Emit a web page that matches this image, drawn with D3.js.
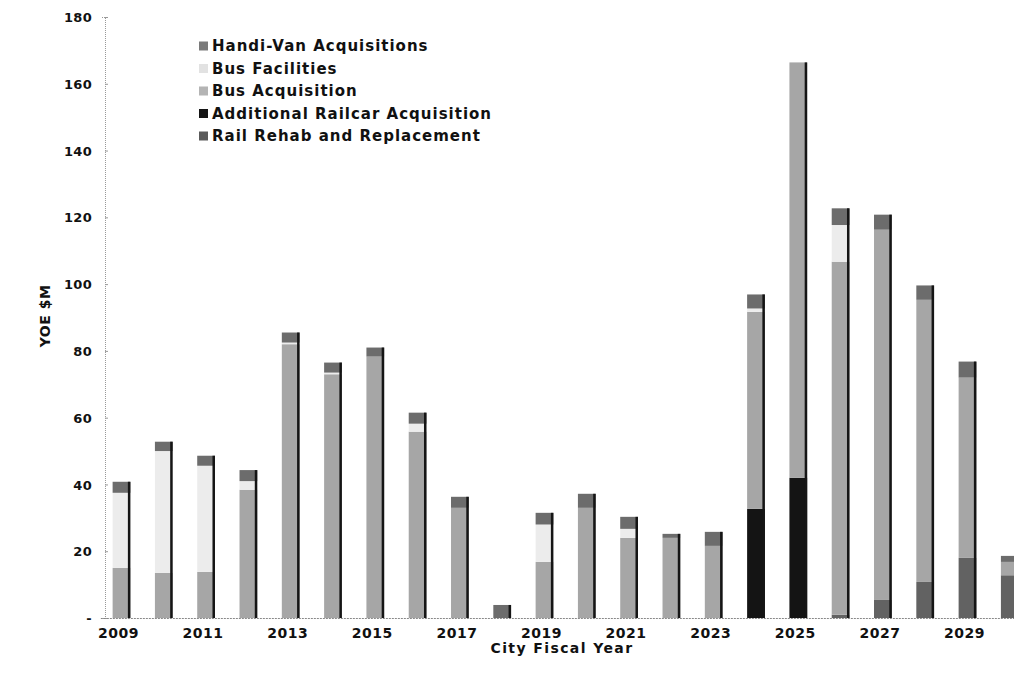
<!DOCTYPE html>
<html>
<head>
<meta charset="utf-8">
<script src="https://cdn.jsdelivr.net/npm/d3@7/dist/d3.min.js"></script>
<style>
  html, body { margin: 0; padding: 0; background: #fff; overflow: hidden; }
  text { font-family: "DejaVu Sans", Verdana, sans-serif; font-weight: bold; fill: #111; }
</style>
</head>
<body>
<svg id="chart" width="1014" height="687"></svg>
<script>
const years = [2009,2010,2011,2012,2013,2014,2015,2016,2017,2018,2019,2020,2021,2022,2023,2024,2025,2026,2027,2028,2029,2030];
const railRehab = [0,0,0,0,0,0,0,0,0,0,0,0,0,0,0,0,0,1,5.4,10.8,18,12.8];
const railcarAcq = [0,0,0,0,0,0,0,0,0,0,0,0,0,0,0,32.7,42,0,0,0,0,0];
const busAcq = [15,13.5,13.8,38.4,82,73,78.3,55.8,33,0,16.8,33,24,24,21.6,59,124.4,105.7,110.9,84.5,54,4];
const busFacilities = [22.5,36.5,31.8,2.6,0.5,0.5,0,2.4,0,0,11.2,0,2.7,0,0,1,0,11,0,0,0,0];
const handiVan = [3.3,2.8,3,3.3,3,3,2.7,3.3,3.3,3.9,3.5,4.2,3.6,1.2,4.2,4.2,0,5,4.5,4.3,4.8,1.8];
const seriesNames = ["Rail Rehab and Replacement","Additional Railcar Acquisition","Bus Acquisition","Bus Facilities","Handi-Van Acquisitions"];
const seriesKeys = ["rail","railcar","bus","fac","van"];
const seriesColors = ["#626262","#141414","#a6a6a6","#ececec","#6c6c6c"];
const legendColors = ["#5a5a5a","#141414","#b4b4b4","#e2e2e2","#7a7a7a"];
const yTicks = [0,20,40,60,80,100,120,140,160,180];

const table = years.map((y,i) => ({year:y, rail:railRehab[i], railcar:railcarAcq[i], bus:busAcq[i], fac:busFacilities[i], van:handiVan[i]}));

const svg = d3.select("#chart");
const step = 42.3;
const x = d3.scaleBand().domain(years).range([121.5 - step/2, 121.5 - step/2 + step*years.length]).paddingInner(0.58).paddingOuter(0.29);
const y = d3.scaleLinear().domain([0,180]).range([618,17]);

const stack = d3.stack().keys(seriesKeys)(table);

// y axis
const yAxis = svg.append("g").attr("transform","translate(105,0)")
  .call(d3.axisLeft(y).tickValues(yTicks).tickSize(4).tickFormat(d => d === 0 ? "-" : d));
yAxis.select(".domain").attr("stroke","#999").attr("stroke-dasharray","1,1");
yAxis.selectAll(".tick line").attr("stroke","#999").attr("x2",3);
yAxis.selectAll(".tick text").attr("x",-13).style("font-size","13px").style("letter-spacing","0.3px").attr("dy","0.35em");

// bars
const color = d3.scaleOrdinal().domain(seriesKeys).range(seriesColors);
const groups = svg.append("g").selectAll("g").data(stack).join("g").attr("fill", d => color(d.key));
groups.selectAll("rect").data(d => d).join("rect")
  .attr("x", d => x(d.data.year))
  .attr("y", d => y(d[1]))
  .attr("width", x.bandwidth())
  .attr("height", d => Math.max(0, y(d[0]) - y(d[1])));
// dark right edge of each bar
const total = d => d.rail + d.railcar + d.bus + d.fac + d.van;
svg.append("g").selectAll("rect").data(table).join("rect")
  .attr("x", d => x(d.year) + x.bandwidth() - 2.5)
  .attr("y", d => y(total(d)))
  .attr("width", 2.5)
  .attr("height", d => y(0) - y(total(d)))
  .attr("fill", "#151515");

// x axis
const xAxis = svg.append("g").attr("transform","translate(0,618)")
  .call(d3.axisBottom(x).tickValues(years.filter(v => v % 2 === 1)).tickSize(0).tickPadding(10));
xAxis.select(".domain").attr("stroke","#888").attr("stroke-dasharray","2,1");
xAxis.selectAll(".tick text").style("font-size","14px").style("letter-spacing","0.5px").attr("dx","-3");

// axis titles
svg.append("text").attr("transform","translate(50,316) rotate(-90)").attr("text-anchor","middle")
  .style("font-size","14px").style("letter-spacing","0.5px").text("YOE $M");
svg.append("text").attr("x",562).attr("y",653).attr("text-anchor","middle")
  .style("font-size","14px").style("letter-spacing","1.4px").text("City Fiscal Year");

// legend
const legendOrder = [4,3,2,1,0];
const lg = svg.append("g").selectAll("g").data(legendOrder).join("g")
  .attr("transform", (d,i) => `translate(200,${46 + i*22.5})`);
lg.append("rect").attr("x",-1).attr("y",-4.5).attr("width",9).attr("height",9)
  .attr("fill", d => legendColors[d]);
lg.append("text").attr("x",12).attr("dy","0.35em").style("font-size","15px").style("letter-spacing","1px").text(d => seriesNames[d]);
</script>
</body>
</html>
